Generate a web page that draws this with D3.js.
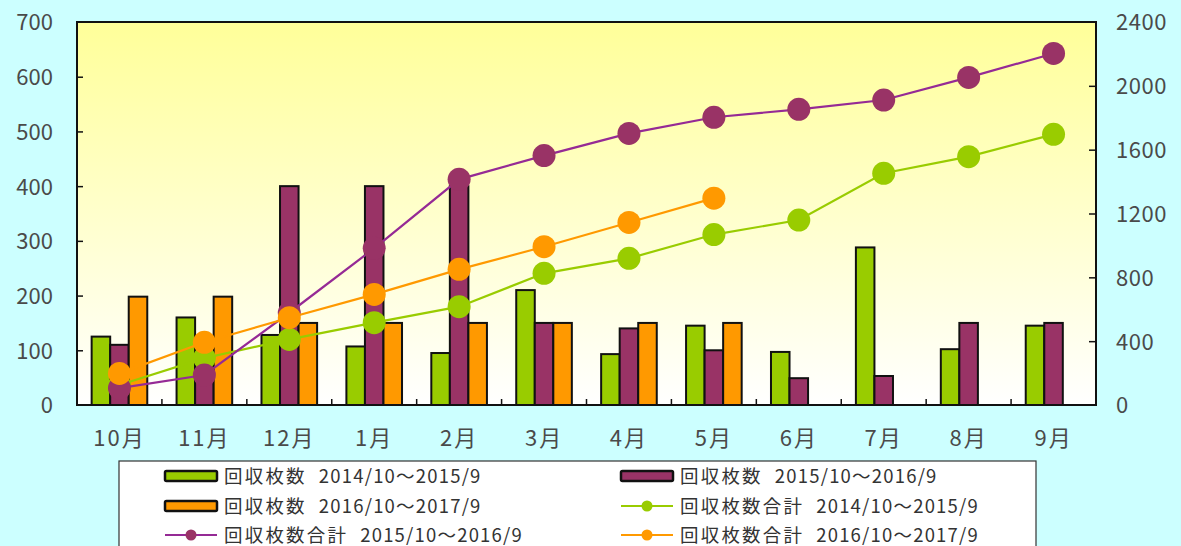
<!DOCTYPE html>
<html>
<head>
<meta charset="utf-8">
<script src="https://cdn.jsdelivr.net/npm/d3@7/dist/d3.min.js"></script>
<style>
  html, body { margin: 0; padding: 0; background: #ccffff; }
  svg { display: block; font-family: "Noto Sans CJK JP", "Noto Sans", sans-serif; }
</style>
</head>
<body>
<svg id="chart" width="1181" height="546"></svg>
<script>
// ---- data ----
const months = ["10月","11月","12月","1月","2月","3月","4月","5月","6月","7月","8月","9月"];
const leftTicks = [0,100,200,300,400,500,600,700];
const rightTicks = [0,400,800,1200,1600,2000,2400];

const count1415 = [125,160,128,107,95,210,93,145,97,288,102,145];
const count1516 = [110,80,400,400,400,150,140,100,49,53,150,150];
const count1617 = [198,198,150,150,150,150,150,150,null,null,null,null];

const total1415 = [125,294,411,516,616,825,919,1068,1159,1452,1556,1696];
const total1516 = [106,188,578,982,1414,1563,1702,1803,1853,1911,2053,2203];
const total1617 = [198,393,547,693,850,992,1144,1296,null,null,null,null];

const barLabels = ["回収枚数", "回収枚数", "回収枚数"];
const lineLabels = ["回収枚数合計", "回収枚数合計", "回収枚数合計"];
const periods = ["2014/10〜2015/9", "2015/10〜2016/9", "2016/10〜2017/9"];

// ---- styles ----
const barColors = ["#99cc00", "#993366", "#ff9900"];
const lineColors = ["#99cc00", "#952a95", "#ff9900"];
const markerColors = ["#99cc00", "#993366", "#ff9900"];

const svg = d3.select("#chart");
const W = 1181, H = 546;
const plot = {left: 77, right: 1096, top: 22, bottom: 405};

svg.append("rect").attr("width", W).attr("height", H).attr("fill", "#ccffff");

const defs = svg.append("defs");
const grad = defs.append("linearGradient").attr("id", "bg").attr("x1", 0).attr("y1", 0).attr("x2", 0).attr("y2", 1);
grad.append("stop").attr("offset", "0%").attr("stop-color", "#ffff99");
grad.append("stop").attr("offset", "100%").attr("stop-color", "#ffffff");

svg.append("rect")
  .attr("x", plot.left).attr("y", plot.top)
  .attr("width", plot.right - plot.left).attr("height", plot.bottom - plot.top)
  .attr("fill", "url(#bg)");

// scales
const x0 = d3.scaleBand().domain(months).range([plot.left, plot.right]).padding(0);
const bw = x0.bandwidth();
const groupW = bw * 0.655;
const x1 = d3.scaleBand().domain([0,1,2]).range([0, groupW]).padding(0);
const yL = d3.scaleLinear().domain([0, 700]).range([plot.bottom, plot.top]);
const yR = d3.scaleLinear().domain([0, 2400]).range([plot.bottom, plot.top]);

// bars
const barSeries = [count1415, count1516, count1617];
barSeries.forEach((vals, si) => {
  svg.append("g").selectAll("rect")
    .data(vals.map((v, i) => ({m: months[i], v})).filter(d => d.v != null))
    .join("rect")
    .attr("x", d => x0(d.m) + (bw - groupW) / 2 + x1(si))
    .attr("y", d => yL(d.v))
    .attr("width", x1.bandwidth())
    .attr("height", d => yL(0) - yL(d.v))
    .attr("fill", barColors[si])
    .attr("stroke", "#111")
    .attr("stroke-width", 2);
});

// lines
const lineSeries = [total1415, total1516, total1617];
const line = d3.line()
  .defined(d => d.v != null)
  .x(d => x0(d.m) + bw / 2)
  .y(d => yR(d.v));
lineSeries.forEach((vals, si) => {
  const pts = vals.map((v, i) => ({m: months[i], v}));
  const g = svg.append("g");
  g.append("path").datum(pts)
    .attr("d", line)
    .attr("fill", "none")
    .attr("stroke", lineColors[si])
    .attr("stroke-width", 2.2);
  g.selectAll("circle").data(pts.filter(d => d.v != null)).join("circle")
    .attr("cx", d => x0(d.m) + bw / 2)
    .attr("cy", d => yR(d.v))
    .attr("r", 11.5)
    .attr("fill", markerColors[si]);
});

// frame
svg.append("rect")
  .attr("x", plot.left).attr("y", plot.top)
  .attr("width", plot.right - plot.left).attr("height", plot.bottom - plot.top)
  .attr("fill", "none").attr("stroke", "#111").attr("stroke-width", 2);

// axes
const leftAxis = d3.axisLeft(yL).tickValues(leftTicks).tickFormat(d3.format("d")).tickSize(-6).tickPadding(24);
const gl = svg.append("g").attr("transform", `translate(${plot.left},0)`).call(leftAxis);
const rightAxis = d3.axisRight(yR).tickValues(rightTicks).tickFormat(d3.format("d")).tickSize(-7).tickPadding(20);
const gr = svg.append("g").attr("transform", `translate(${plot.right},0)`).call(rightAxis);
[gl, gr].forEach(g => {
  g.select(".domain").remove();
  g.selectAll(".tick line").attr("stroke", "#111").attr("stroke-width", 1.5);
  g.selectAll("text").attr("font-size", 22).attr("fill", "#4a4a4a")
    .attr("font-family", "\"Noto Sans CJK JP\", sans-serif").attr("dy", "0.36em");
});
gr.selectAll("text").attr("letter-spacing", "0.5px");
gl.selectAll(".tick").filter(d => d === 0 || d === 700).select("line").remove();
gr.selectAll(".tick").filter(d => d === 0 || d === 2400).select("line").remove();

// x axis: inward ticks at category boundaries and labels
const xg = svg.append("g");
xg.selectAll("line").data(months.slice(1)).join("line")
  .attr("x1", d => x0(d)).attr("x2", d => x0(d))
  .attr("y1", plot.bottom).attr("y2", plot.bottom - 6)
  .attr("stroke", "#111").attr("stroke-width", 1.5);
xg.selectAll("text").data(months).join("text")
  .attr("x", d => x0(d) + bw / 2)
  .attr("y", 446)
  .attr("text-anchor", "middle")
  .attr("font-size", 22)
  .attr("letter-spacing", "2px")
  .attr("fill", "#4a4a4a")
  .text(d => d);

// legend
const lg = svg.append("g");
lg.append("rect").attr("x", 119).attr("y", 461).attr("width", 917).attr("height", 100)
  .attr("fill", "#ffffff").attr("stroke", "#333").attr("stroke-width", 1.2);

const items = [
  {type: "bar", s: 0, col: 0, row: 0},
  {type: "bar", s: 1, col: 1, row: 0},
  {type: "bar", s: 2, col: 0, row: 1},
  {type: "line", s: 0, col: 1, row: 1},
  {type: "line", s: 1, col: 0, row: 2},
  {type: "line", s: 2, col: 1, row: 2}
];
const colX = [165, 621];
const rowY = [476, 506, 535];
items.forEach(it => {
  const sx = colX[it.col], sy = rowY[it.row];
  const g = lg.append("g");
  if (it.type === "bar") {
    g.append("rect").attr("x", sx).attr("y", sy - 5).attr("width", 52).attr("height", 10)
      .attr("fill", barColors[it.s]).attr("stroke", "#111").attr("stroke-width", 2.5).attr("rx", 1.5);
  } else {
    g.append("line").attr("x1", sx).attr("x2", sx + 52).attr("y1", sy).attr("y2", sy)
      .attr("stroke", lineColors[it.s]).attr("stroke-width", 2);
    g.append("circle").attr("cx", sx + 26).attr("cy", sy).attr("r", 5.5).attr("fill", markerColors[it.s]);
  }
  const label = it.type === "bar" ? barLabels[it.s] : lineLabels[it.s];
  const t = g.append("text").attr("x", sx + 59).attr("y", sy + 6.5)
    .attr("font-size", 18.5).attr("letter-spacing", "2.2px").attr("fill", "#333");
  t.append("tspan").text(label);
  t.append("tspan").attr("dx", 12).attr("letter-spacing", "1.2px").text(periods[it.s]);
});
</script>
</body>
</html>
